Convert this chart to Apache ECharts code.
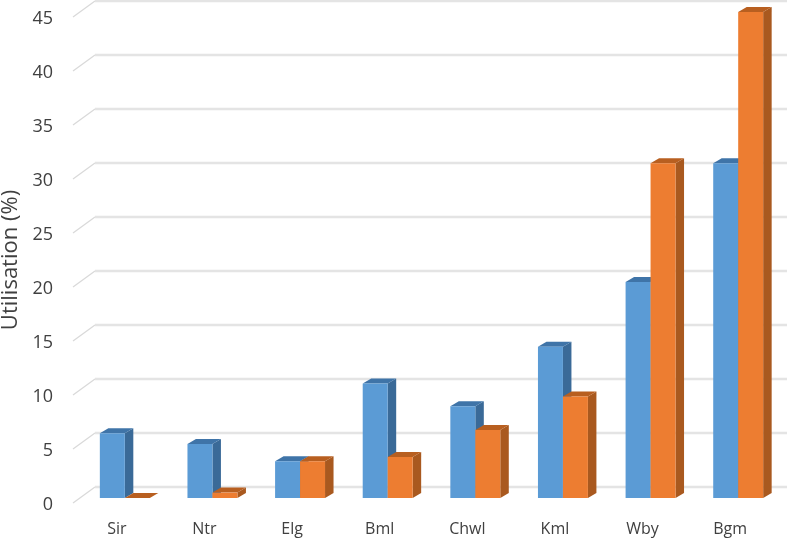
<!DOCTYPE html>
<html>
<head>
<meta charset="utf-8">
<style>
  html, body { margin: 0; padding: 0; background: #fff; }
  #chart { width: 787px; height: 543px; }
</style>
<script src="https://cdn.jsdelivr.net/npm/echarts@6/dist/echarts.min.js"></script>
</head>
<body>
<div id="chart"></div>
<script>
var categories = ['Sir', 'Ntr', 'Elg', 'Bml', 'Chwl', 'Kml', 'Wby', 'Bgm'];
var blueValues = [6, 5, 3.4, 10.6, 8.5, 14, 20, 31];
var orangeValues = [0, 0.5, 3.4, 3.8, 6.3, 9.4, 31, 45];
var yTicks = [0, 5, 10, 15, 20, 25, 30, 35, 40, 45];

var chart = echarts.init(document.getElementById('chart'));

// fake 3d: the axis sits on the front edge, bars and back wall are shifted from it
var barShift = [8, -5];
var depth = [8.5, -5];
var wallShift = [22, -16];
var barRatio = 0.285;

var barItem = function (side, front, sideColor, topColor) {
  return function (params, api) {
    var p = api.coord([api.value(0), api.value(1)]);
    var base = api.coord([api.value(0), 0]);
    var w = api.size([1, 0])[0] * barRatio;
    var x0 = p[0] + barShift[0] + (side < 0 ? -w : 0);
    var x1 = x0 + w;
    var top = p[1] + barShift[1];
    var bottom = base[1] + barShift[1];
    var dx = depth[0], dy = depth[1];
    return {
      type: 'group',
      children: [
        { type: 'polygon', shape: { points: [[x1, top], [x1 + dx, top + dy], [x1 + dx, bottom + dy], [x1, bottom]] }, style: { fill: sideColor } },
        { type: 'polygon', shape: { points: [[x0, top], [x0 + dx, top + dy], [x1 + dx, top + dy], [x1, top]] }, style: { fill: topColor } },
        { type: 'rect', shape: { x: x0, y: top, width: w, height: bottom - top }, style: { fill: front } }
      ]
    };
  };
};

var wallItem = function (params, api) {
  var p = api.coord([0, api.value(0)]);
  var x = params.coordSys.x;
  var bx = x + wallShift[0], by = p[1] + wallShift[1];
  return {
    type: 'group',
    children: [
      { type: 'line', shape: { x1: x, y1: p[1], x2: bx, y2: by }, style: { stroke: '#d9d9d9', lineWidth: 1.2 } },
      { type: 'line', shape: { x1: bx, y1: by, x2: api.getWidth(), y2: by }, style: { stroke: '#e4e4e4', lineWidth: 2.5 } }
    ]
  };
};

var option = {
  animation: false,
  backgroundColor: '#fff',
  textStyle: { fontFamily: 'Open Sans' },
  grid: { left: 73, right: 13, top: 17, bottom: 40, outerBoundsMode: 'none' },
  xAxis: {
    type: 'category',
    data: categories,
    axisLine: { show: false },
    axisTick: { show: false },
    axisLabel: { color: '#404040', fontSize: 16, margin: 18 }
  },
  yAxis: {
    type: 'value',
    min: 0,
    max: 45,
    interval: 5,
    name: 'Utilisation (%)',
    nameLocation: 'middle',
    nameGap: 43,
    nameTextStyle: { color: '#404040', fontSize: 22 },
    axisLine: { show: false },
    axisTick: { show: false },
    splitLine: { show: false },
    axisLabel: {
      margin: 20,
      formatter: '{a|{value}}',
      rich: { a: { color: '#404040', fontSize: 18, padding: [4, 0, 0, 0] } }
    }
  },
  series: [
    { type: 'custom', silent: true, renderItem: wallItem, data: yTicks, encode: { y: 0 }, clip: false },
    { type: 'custom', name: 'Blue', renderItem: barItem(-1, '#5B9BD5', '#3A6A98', '#3F74A8'), data: blueValues.map(function (v, i) { return [i, v]; }), encode: { x: 0, y: 1 }, clip: false },
    { type: 'custom', name: 'Orange', renderItem: barItem(1, '#ED7D31', '#A9591F', '#B85F20'), data: orangeValues.map(function (v, i) { return [i, v]; }), encode: { x: 0, y: 1 }, clip: false }
  ]
};
chart.setOption(option);
</script>
</body>
</html>
